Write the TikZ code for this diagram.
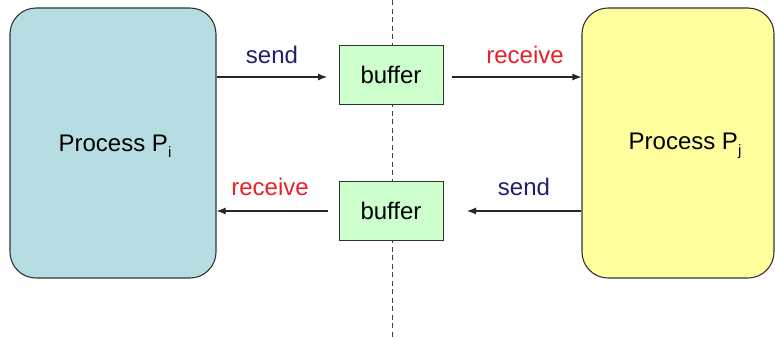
\documentclass[tikz,border=0pt]{standalone}
\usepackage{fontspec}
\setmainfont{Liberation Sans}
\usetikzlibrary{arrows.meta}
\definecolor{procA}{HTML}{B6DEE2}
\definecolor{procB}{HTML}{FFFF9E}
\definecolor{bufcol}{HTML}{CCFFCC}
\definecolor{sendcol}{HTML}{1F1F6E}
\definecolor{recvcol}{HTML}{E8202A}
\tikzset{
  x=1pt, y=-1pt,
  process/.style={draw=black!80, line width=1.1pt, rounded corners=26pt, inner sep=0pt},
  bufbox/.style={draw=black!80, line width=1pt, fill=bufcol, minimum width=104pt,
    minimum height=59pt, inner sep=0pt, font=\fontsize{24}{28}\selectfont},
  msg/.style={draw=black!85, line width=1.1pt, -{Latex[length=9pt,width=7pt]}},
  lbl/.style={font=\fontsize{24}{28}\selectfont, inner sep=0pt},
  ptitle/.style={font=\fontsize{24}{28}\selectfont, inner sep=0pt},
}
\newcommand{\psub}[1]{\raisebox{-6pt}{\fontsize{15}{16}\selectfont #1}}
\begin{document}
\begin{tikzpicture}
\useasboundingbox (0,0) rectangle (775,338);
% separator between the two processes
\draw[black!75, line width=1pt, dash pattern=on 5pt off 3.5pt] (392,0) -- (392,338);
% the two processes
\node[process, fill=procA, minimum width=206pt, minimum height=270pt] (pi) at (113,143) {};
\node[ptitle] (ti) at (115,146) {Process P\psub{i}};
\node[process, fill=procB, minimum width=192pt, minimum height=270pt] (pj) at (678,143) {};
\node[ptitle] (tj) at (685,146) {Process P\psub{j}};
% buffers
\node[bufbox] (b1) at (391,75) {buffer};
\node[bufbox] (b2) at (391,211) {buffer};
% message flow
\coordinate (s1) at (pi.east |- 0,77);
\coordinate (e1) at (327,77);
\coordinate (s2) at (452,77);
\coordinate (e2) at (pj.west |- 0,77);
\coordinate (s3) at (pj.west |- 0,211);
\coordinate (e3) at (467,211);
\coordinate (s4) at (328,211);
\coordinate (e4) at (pi.east |- 0,211);
\draw[msg] (s1) -- (e1);
\draw[msg] (s2) -- (e2);
\draw[msg] (s3) -- (e3);
\draw[msg] (s4) -- (e4);
\node[lbl, text=sendcol] (l1) at (272,55) {send};
\node[lbl, text=recvcol] (l2) at (525,55) {receive};
\node[lbl, text=recvcol] (l3) at (270,187) {receive};
\node[lbl, text=sendcol] (l4) at (524,187) {send};
\end{tikzpicture}
\end{document}
